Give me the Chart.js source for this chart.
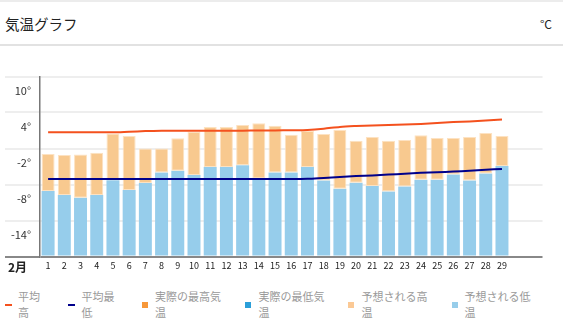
<!DOCTYPE html>
<html>
<head>
<meta charset="utf-8">
<script src="https://cdn.jsdelivr.net/npm/chart.js@4/dist/chart.umd.min.js"></script>
<style>
  body { margin: 0; width: 563px; height: 335px; position: relative; overflow: hidden; background: #fff;
         font-family: "Noto Sans CJK JP", "Noto Sans", sans-serif; }
  .topline { position: absolute; left: 0; top: 0; width: 563px; height: 2px; background: #ececec; }
  .title { position: absolute; left: 5px; top: 14px; font-size: 14.5px; line-height: 20px; color: #222; }
  .unit { position: absolute; right: 11px; top: 15px; font-size: 12px; line-height: 18px; color: #222; }
  .sep { position: absolute; left: 0; top: 44px; width: 563px; height: 2px; background: #e2e2e2; }
  #wrap { position: absolute; left: 0; top: 60px; width: 563px; height: 225px; }
  .month { position: absolute; left: 8px; top: 259px; font-size: 12px; line-height: 16px; font-weight: bold; color: #222; }
  .lg { position: absolute; top: 289px; font-size: 11px; line-height: 15.6px; color: #999; white-space: nowrap; }
  .mk { position: absolute; }
</style>
</head>
<body>
<div class="topline"></div>
<div class="title">気温グラフ</div>
<div class="unit">°C</div>
<div class="sep"></div>
<div id="wrap"><canvas id="tempChart"></canvas></div>
<div class="month">2月</div>
<div id="legend"></div>

<script>
// Days of February (two empty slots keep the month width of 31 days)
const days = ["1", "2", "3", "4", "5", "6", "7", "8", "9", "10", "11", "12", "13", "14", "15",
  "16", "17", "18", "19", "20", "21", "22", "23", "24", "25", "26", "27", "28", "29", "", ""];

const avgHigh = [0.7, 0.7, 0.7, 0.7, 0.7, 0.8, 0.9, 0.95, 0.97, 0.97, 0.97, 0.97, 0.97, 1.0, 1.0,
  1.05, 1.1, 1.3, 1.6, 1.75, 1.85, 1.9, 2.0, 2.1, 2.25, 2.4, 2.5, 2.65, 2.85];
const avgLow = [-7.1, -7.1, -7.1, -7.1, -7.1, -7.1, -7.1, -7.1, -7.1, -7.1, -7.1, -7.1, -7.1, -7.1, -7.1,
  -7.1, -7.05, -6.9, -6.75, -6.6, -6.5, -6.35, -6.2, -6.05, -5.95, -5.85, -5.7, -5.55, -5.4];
const forecastHigh = [-2.9, -3.1, -3.0, -2.7, 0.5, 0.1, -2.0, -2.0, -0.3, 0.8, 1.6, 1.6, 1.9, 2.2, 1.8,
  0.3, 0.9, 0.4, 1.1, -0.7, -0.1, -0.7, -0.6, 0.2, -0.25, -0.25, -0.1, 0.6, 0.1];
const forecastLow = [-9.1, -9.75, -10.2, -9.75, -7.3, -8.9, -7.75, -6.0, -5.7, -6.4, -5.1, -5.1, -4.8, -7.0, -6.0,
  -6.0, -5.1, -7.35, -8.7, -7.7, -8.25, -9.15, -8.35, -7.2, -7.2, -6.35, -7.35, -6.15, -4.9];

const yMin = -20;
const yMax = 10;
const yStep = 6;

// orange bar spans low -> high
const highRange = forecastHigh.map((h, i) => [forecastLow[i], h]);

new Chart(document.getElementById("tempChart").getContext("2d"), {
  type: "bar",
  data: {
    labels: days,
    datasets: [
      {
        type: "line",
        label: "平均高",
        data: avgHigh,
        borderColor: "#f4511e",
        borderWidth: 2,
        pointRadius: 0,
        tension: 0.3,
      },
      {
        type: "line",
        label: "平均最低",
        data: avgLow,
        borderColor: "#00008b",
        borderWidth: 2,
        pointRadius: 0,
        tension: 0.3,
      },
      {
        label: "予想される高温",
        data: highRange,
        backgroundColor: "#f8c98f",
        borderColor: "#fde2c2",
        borderWidth: 1,
        borderSkipped: false,
        grouped: false,
        barPercentage: 0.8,
        categoryPercentage: 1,
      },
      {
        label: "予想される低温",
        data: forecastLow,
        base: yMin,
        backgroundColor: "#96cdeb",
        borderWidth: 0,
        grouped: false,
        barPercentage: 0.8,
        categoryPercentage: 1,
      },
    ],
  },
  options: {
    responsive: true,
    maintainAspectRatio: false,
    animation: false,
    layout: { padding: { top: 16.5, right: 20.5, left: 0, bottom: 0 } },
    plugins: { legend: { display: false }, tooltip: { enabled: false } },
    scales: {
      x: {
        grid: { display: false, drawTicks: false },
        border: { display: false },
        ticks: {
          color: "#222",
          font: { size: 9, family: "Noto Sans CJK JP" },
          padding: 4,
          autoSkip: false,
          maxRotation: 0,
        },
        afterFit: (s) => { s.height = 28.5; },
      },
      y: {
        min: yMin,
        max: yMax,
        border: { color: "#777", width: 1.5 },
        grid: {
          color: (c) => (c.tick && c.tick.value === yMin ? "#888" : "#eeeeee"),
          lineWidth: 2,
          drawTicks: true,
          tickLength: 35,
        },
        ticks: {
          stepSize: yStep,
          color: "#333",
          font: { size: 11, family: "Noto Sans CJK JP" },
          padding: -26,
          labelOffset: 14,
          callback: (v) => (v === yMin ? "" : v + "°"),
        },
        afterFit: (s) => { s.width = 40; },
      },
    },
  },
});

// html legend, text wraps like the original
const legendItems = [
  { text: "平均<br>高", color: "#f4511e", line: true, mx: 5, tx: 18 },
  { text: "平均最<br>低", color: "#00008b", line: true, mx: 68, tx: 81.5 },
  { text: "実際の最高気<br>温", color: "#f7983a", line: false, mx: 141.5, tx: 155 },
  { text: "実際の最低気<br>温", color: "#2b9fd9", line: false, mx: 245, tx: 258.5 },
  { text: "予想される高<br>温", color: "#fbc995", line: false, mx: 347.5, tx: 361.5 },
  { text: "予想される低<br>温", color: "#97cdea", line: false, mx: 452, tx: 464.5 },
];
const legend = document.getElementById("legend");
legendItems.forEach((it) => {
  const m = document.createElement("div");
  m.className = "mk";
  m.style.left = it.mx + "px";
  m.style.background = it.color;
  if (it.line) {
    m.style.top = "304px"; m.style.width = "7px"; m.style.height = "2px";
  } else {
    m.style.top = "302px"; m.style.width = "6px"; m.style.height = "6px";
  }
  legend.appendChild(m);
  const t = document.createElement("div");
  t.className = "lg";
  t.style.left = it.tx + "px";
  t.innerHTML = it.text;
  legend.appendChild(t);
});
</script>
</body>
</html>
